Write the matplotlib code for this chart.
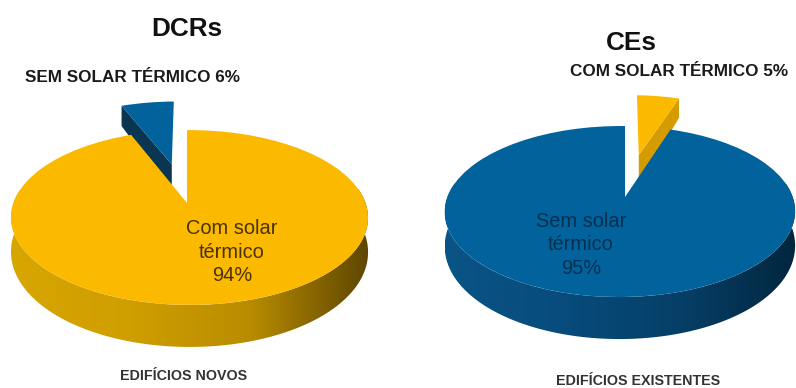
import numpy as np
import matplotlib
matplotlib.use("Agg")
import matplotlib.pyplot as plt
from matplotlib.colors import LinearSegmentedColormap
from matplotlib.patches import Polygon
from matplotlib.transforms import Transform

# Data
titles = ["DCRs", "CEs"]
slice_labels = ["SEM SOLAR TÉRMICO 6%", "COM SOLAR TÉRMICO 5%"]
main_labels = ["Com solar\ntérmico\n94%", "Sem solar\ntérmico\n95%"]
footers = ["EDIFÍCIOS NOVOS", "EDIFÍCIOS EXISTENTES"]
left_values = [6, 94]
right_values = [5, 95]

YELLOW = "#fbba00"
BLUE = "#02629c"
YELLOW_SIDE = ["#d8a600", "#cf9e00", "#b98c00", "#5e4600"]
BLUE_SIDE = ["#0a5486", "#074c7c", "#063f68", "#02263e"]
NAVY = "#0a3654"
GOLD = "#d49c00"
FONT = "Liberation Sans"

fig = plt.figure(figsize=(7.96, 3.88), dpi=100, facecolor="white")
ax = fig.add_axes([0, 0, 1, 1])


class Persp(Transform):
    """Tilted-disc projection from pie coordinates to pixel coordinates."""
    input_dims = output_dims = 2
    is_affine = False
    has_inverse = False

    def __init__(self, cx, cy, bx, by, k, m):
        super().__init__()
        self.p = (cx, cy, bx, by, k, m)

    def transform_non_affine(self, xy):
        cx, cy, bx, by, k, m = self.p
        xy = np.asarray(xy, float)
        w = 1 + k * xy[:, 1] + m * xy[:, 0]
        return np.column_stack([cx + bx * xy[:, 0] / w, cy - by * xy[:, 1] / w])


def depth(v):
    return 33 - 9 * v


def side_fill(pts, x0, x1, colors, z):
    poly = Polygon(pts, closed=True, transform=ax.transData, fc="none", ec="none")
    ax.add_patch(poly)
    cmap = LinearSegmentedColormap.from_list("s", colors)
    im = ax.imshow(np.linspace(0, 1, 256)[None, :], cmap=cmap, aspect="auto",
                   extent=(x0, x1, 388, 0), zorder=z)
    im.set_clip_path(poly)


def draw_pie(values, startangle, counterclock, proj, top_colors, slice_side, main_side, expl):
    wedges, _ = ax.pie(values, explode=[expl, 0], startangle=startangle,
                       counterclock=counterclock, colors=top_colors,
                       wedgeprops=dict(linewidth=0), normalize=True)
    tr = proj + ax.transData
    small, big = wedges
    small.set_transform(tr)
    big.set_transform(tr)
    small.set_zorder(2.2)
    big.set_zorder(4)

    # side of the exploded slice: radial edge farthest from the vertical cut
    c = np.array(small.center)
    ang = np.radians(small.theta2 if counterclock else small.theta1)
    ts = np.linspace(0, 1, 12)
    edge = np.column_stack([c[0] + ts * np.cos(ang), c[1] + ts * np.sin(ang)])
    e = proj.transform(edge)
    low = e + np.column_stack([np.zeros(len(e)), depth(edge[:, 1])])
    ax.add_patch(Polygon(np.vstack([e, low[::-1]]), closed=True, fc=slice_side,
                         ec="none", zorder=2))

    # outer wall of the main wedge
    th = np.radians(np.linspace(big.theta1, big.theta2, 600))
    th = th[np.sin(th) < 0.17]
    arc = np.column_stack([np.cos(th), np.sin(th)])
    a = proj.transform(arc)
    b = a + np.column_stack([np.zeros(len(a)), depth(arc[:, 1])])
    side_fill(np.vstack([a, b[::-1]]), a[:, 0].min(), a[:, 0].max(), main_side, 3)


left = Persp(187, 203, 176, 85, 0.166, -0.014)
right = Persp(625, 197, 172.5, 83, 0.17, 0.0286)

draw_pie(left_values, 90, True, left, [BLUE, YELLOW], NAVY, YELLOW_SIDE, 0.5)
draw_pie(right_values, 90, False, right, [YELLOW, BLUE], GOLD, BLUE_SIDE, 0.56)

ax.set_xlim(0, 796)
ax.set_ylim(388, 0)
ax.set_aspect("auto")
ax.axis("off")

kw = dict(family=FONT, ha="center", va="center", zorder=6)
ax.text(187, 28.5, titles[0], fontsize=18.8, fontweight="bold", color="#111111", **kw)
ax.text(631, 42.5, titles[1], fontsize=18.8, fontweight="bold", color="#111111", **kw)
ax.text(132.5, 77, slice_labels[0], fontsize=12.3, fontweight="bold", color="#1a1a1a", **kw)
ax.text(679.5, 71, slice_labels[1], fontsize=12.3, fontweight="bold", color="#1a1a1a", **kw)
ax.text(232, 252, main_labels[0], fontsize=14.4, color="#4a3200", linespacing=1.3, **kw)
ax.text(581, 245, main_labels[1], fontsize=14.4, color="#06304f", linespacing=1.3, **kw)
ax.text(184, 376, footers[0], fontsize=10.3, fontweight="bold", color="#333333", **kw)
ax.text(638, 381, footers[1], fontsize=10.3, fontweight="bold", color="#333333", **kw)

fig.savefig("out.png", dpi=100, facecolor="white")
